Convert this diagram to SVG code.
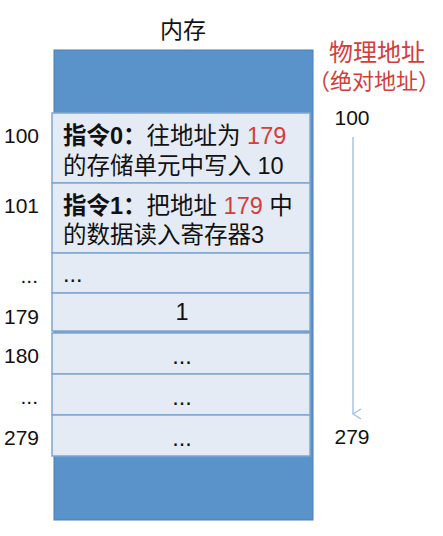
<svg xmlns="http://www.w3.org/2000/svg" width="443" height="536" viewBox="0 0 443 536">
<defs>
<style>
.t{font-family:"Liberation Sans","Noto Sans CJK SC",sans-serif;fill:#111}
.c{font-family:"Liberation Sans","Noto Sans CJK SC",sans-serif;font-size:23.5px;fill:#111}
.r{fill:#d43d3a}
.b{font-weight:bold}
.cell{fill:#e5ebf5;stroke:#7ea6d2;stroke-width:1.5}
.lab{font-family:"Liberation Sans","Noto Sans CJK SC",sans-serif;font-size:21px;fill:#111}
</style>
<marker id="ah" markerWidth="12" markerHeight="10" refX="6" refY="9" orient="auto" markerUnits="userSpaceOnUse">
<path d="M1,1 L6,9 L11,1" fill="none" stroke="#9bbbe0" stroke-width="1.2"/>
</marker>
</defs>
<rect width="443" height="536" fill="#fff"/>
<text class="t" x="183" y="38" font-size="23" text-anchor="middle">内存</text>
<g id="memory">
<rect x="54" y="50" width="259" height="470" fill="#5a93c9" stroke="#4a7fb6" stroke-width="1"/>
</g>
<g id="cell100">
<rect class="cell" x="52" y="113" width="258" height="70"/>
<text class="c" x="63" y="144"><tspan class="b">指令0：</tspan>往地址为 <tspan class="r">179</tspan></text>
<text class="c" x="63" y="174">的存储单元中写入 10</text>
</g>
<g id="cell101">
<rect class="cell" x="52" y="183" width="258" height="70"/>
<text class="c" x="63" y="214"><tspan class="b">指令1：</tspan>把地址 <tspan class="r">179</tspan> 中</text>
<text class="c" x="63" y="243">的数据读入寄存器3</text>
</g>
<g id="cellDots1">
<rect class="cell" x="52" y="253" width="258" height="40"/>
<text class="c" x="63" y="282" font-size="18">...</text>
</g>
<g id="cell179">
<rect class="cell" x="52" y="293" width="258" height="38"/>
<text class="c" x="182" y="320" text-anchor="middle">1</text>
</g>
<g id="cell180">
<rect class="cell" x="52" y="333" width="258" height="41"/>
<text class="c" x="182" y="364" text-anchor="middle" font-size="18">...</text>
</g>
<g id="cellDots2">
<rect class="cell" x="52" y="374" width="258" height="41"/>
<text class="c" x="182" y="405" text-anchor="middle" font-size="18">...</text>
</g>
<g id="cell279">
<rect class="cell" x="52" y="415" width="258" height="41"/>
<text class="c" x="182" y="446" text-anchor="middle" font-size="18">...</text>
</g>
<g id="labels">
<text class="lab" x="4" y="143">100</text>
<text class="lab" x="4" y="213">101</text>
<text class="lab" x="38" y="283" text-anchor="end" font-size="17">...</text>
<text class="lab" x="4" y="324">179</text>
<text class="lab" x="4" y="363">180</text>
<text class="lab" x="38" y="404" text-anchor="end" font-size="17">...</text>
<text class="lab" x="4" y="445">279</text>
</g>
<g id="physical">
<text class="t r" x="329" y="61" font-size="24">物理地址</text>
<text class="t r" x="308" y="89" font-size="22">（绝对地址）</text>
<text class="lab" x="352" y="125" text-anchor="middle">100</text>
<text class="lab" x="352" y="444" text-anchor="middle">279</text>
</g>
<g id="connectors">
<line x1="353" y1="137" x2="353" y2="414" stroke="#9bbbe0" stroke-width="1.3" marker-end="url(#ah)"/>
</g>
</svg>
